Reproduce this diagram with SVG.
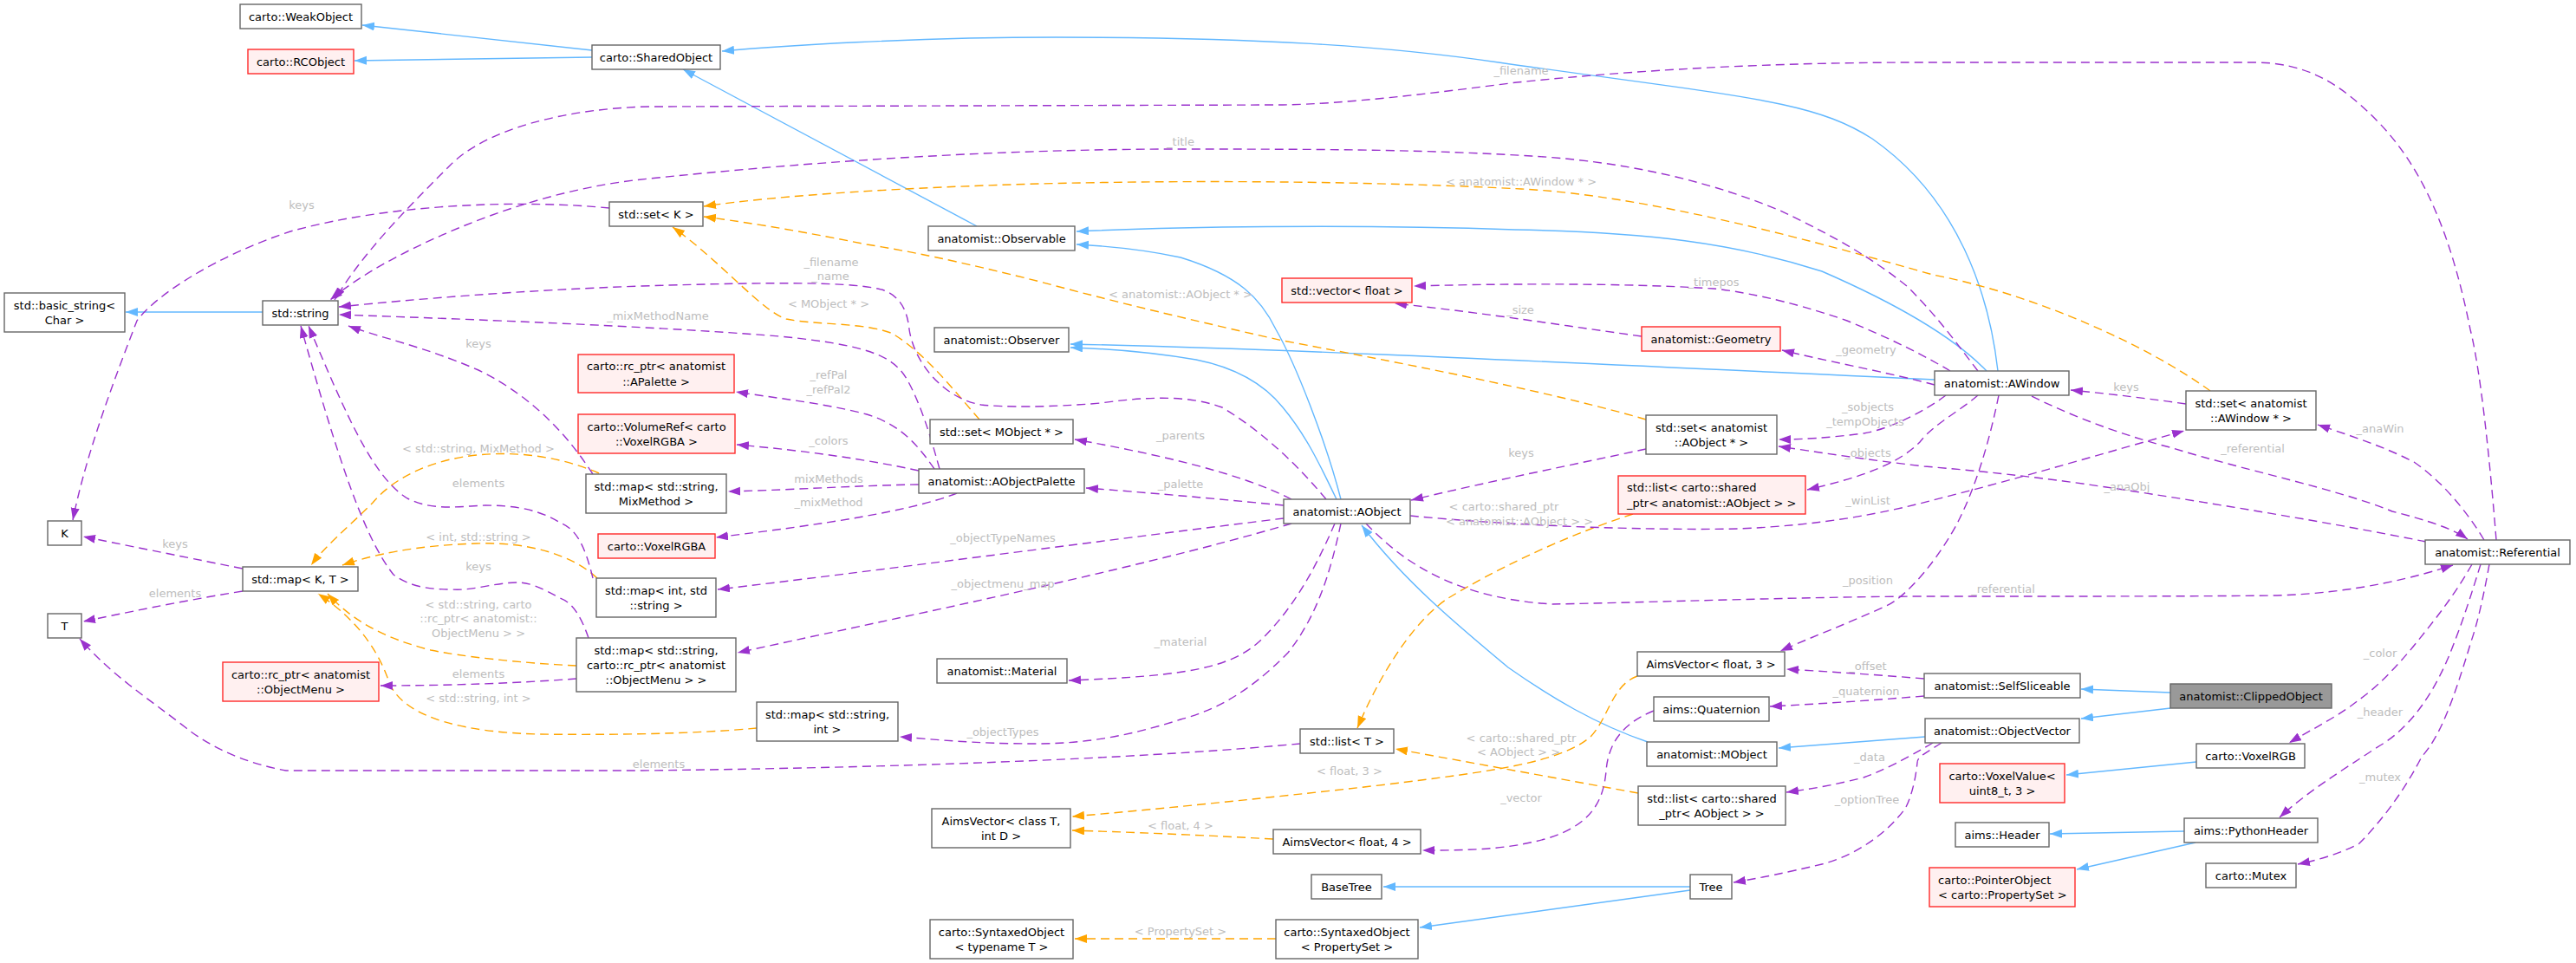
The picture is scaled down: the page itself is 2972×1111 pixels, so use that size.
<svg xmlns="http://www.w3.org/2000/svg" width="2972" height="1111" viewBox="0 0 2972 1111">
<style>
.n rect{fill:#ffffff;stroke:#666666;stroke-width:1.4}
.r rect{fill:#fff0f0;stroke:#ff2a2a;stroke-width:1.4}
.m rect{fill:#999999;stroke:#666666;stroke-width:1.4}
text{font-family:"DejaVu Sans","Liberation Sans",sans-serif;font-size:13px}
.n text,.r text,.m text{fill:#000000;text-anchor:middle}
text.la{text-anchor:start}
.lb text{fill:#bdbdbd;text-anchor:middle}
.inh{fill:none;stroke:#63b8ff;stroke-width:1.4;marker-end:url(#ab)}
.use{fill:none;stroke:#9a32cd;stroke-width:1.4;stroke-dasharray:10,6;marker-end:url(#ap)}
.tpl{fill:none;stroke:#ffa500;stroke-width:1.4;stroke-dasharray:10,6;marker-end:url(#ao)}
</style>
<defs>
<marker id="ab" markerUnits="userSpaceOnUse" markerWidth="15" markerHeight="11" refX="14" refY="5" orient="auto"><path d="M0,0 L14,5 L0,10 z" fill="#63b8ff"/></marker>
<marker id="ap" markerUnits="userSpaceOnUse" markerWidth="15" markerHeight="11" refX="14" refY="5" orient="auto"><path d="M0,0 L14,5 L0,10 z" fill="#9a32cd"/></marker>
<marker id="ao" markerUnits="userSpaceOnUse" markerWidth="15" markerHeight="11" refX="14" refY="5" orient="auto"><path d="M0,0 L14,5 L0,10 z" fill="#ffa500"/></marker>
</defs>
<rect width="2972" height="1111" fill="#ffffff"/>
<g id="edges">
<!-- inheritance -->
<path class="inh" d="M683,58 L418,29"/>
<path class="inh" d="M683,66 L409,70"/>
<path class="inh" d="M1127,261 L788,80"/>
<path class="inh" d="M2305,428 C2295,340 2260,230 2160,160 C2090,115 2010,112 1729,72 C1600,53 1450,43 1218,43 C1050,43 900,53 833,59"/>
<path class="inh" d="M2292,428 C2265,400 2210,360 2102,313 C2000,280 1900,268 1748,265 C1550,258 1350,262 1242,267"/>
<path class="inh" d="M2232,438 C1800,418 1480,402 1235,397"/>
<path class="inh" d="M1547,576 C1530,510 1495,420 1472,380 C1455,345 1430,318 1362,297 C1320,288 1280,284 1242,282"/>
<path class="inh" d="M1542,576 C1520,530 1505,500 1480,470 C1460,445 1430,425 1380,415 C1320,405 1270,402 1235,401"/>
<path class="inh" d="M1901,856 C1840,835 1790,805 1740,770 C1680,720 1620,670 1571,606"/>
<path class="inh" d="M2221,850 L2052,863"/>
<path class="inh" d="M2504,799 L2401,795"/>
<path class="inh" d="M2504,817 L2401,829"/>
<path class="inh" d="M2534,879 L2384,894"/>
<path class="inh" d="M2520,959 L2365,962"/>
<path class="inh" d="M2533,972 L2396,1003"/>
<path class="inh" d="M1950,1023 L1596,1023"/>
<path class="inh" d="M1950,1027 L1638,1070"/>
<path class="inh" d="M303,360 L145,360"/>
<!-- template instances -->
<path class="tpl" d="M2550,451 C2480,400 2350,340 2230,317 C2100,280 1900,225 1755,218 C1600,210 1400,207 1200,212 C1050,216 900,225 812,238"/>
<path class="tpl" d="M1899,484 C1800,455 1650,425 1480,393 C1400,375 1300,352 1200,325 C1100,300 1050,290 1000,282 C900,262 850,255 812,250"/>
<path class="tpl" d="M1130,484 C1100,450 1070,410 1030,385 C1000,372 940,375 907,368 C880,360 830,300 776,262"/>
<path class="tpl" d="M691,546 C650,528 600,520 550,525 C500,530 455,550 430,580 C400,610 375,630 359,652"/>
<path class="tpl" d="M689,667 C660,640 610,625 550,627 C480,629 430,640 395,652"/>
<path class="tpl" d="M665,768 C600,765 530,757 497,750 C450,738 410,720 378,685"/>
<path class="tpl" d="M873,840 C800,847 700,848 622,847 C540,845 470,830 450,790 C440,760 420,720 367,685"/>
<path class="tpl" d="M1889,780 C1860,790 1855,830 1835,850 C1800,880 1720,890 1600,905 C1450,922 1320,935 1237,942"/>
<path class="tpl" d="M1469,968 C1380,963 1300,960 1237,958"/>
<path class="tpl" d="M1472,1083 L1240,1083"/>
<path class="tpl" d="M1890,915 L1610,864"/>
<path class="tpl" d="M1884,593 C1800,620 1720,660 1671,690 C1640,710 1600,760 1566,840"/>
<!-- usage -->
<path class="use" d="M2880,623 C2870,500 2860,420 2850,380 C2830,280 2800,200 2746,143 C2700,95 2660,72 2600,72 L2220,72 C2000,72 1850,85 1750,95 C1650,108 1550,120 1480,121 L750,123 C650,125 560,150 520,190 C470,240 420,290 386,346"/>
<path class="use" d="M2282,428 C2260,400 2240,370 2200,330 C2150,290 2100,265 2054,243 C1950,200 1850,185 1767,180 C1650,173 1550,172 1362,172 C1200,172 1000,180 750,206 C650,215 550,250 470,290 C430,310 400,330 381,346"/>
<path class="use" d="M1530,576 C1500,540 1460,500 1410,470 C1370,455 1320,458 1270,465 C1210,470 1160,470 1132,467 C1090,460 1055,420 1049,380 C1047,360 1040,343 1020,335 C990,325 900,325 740,330 C600,335 480,345 391,354"/>
<path class="use" d="M1084,541 C1078,520 1065,470 1046,437 C1030,410 1000,398 900,388 C800,380 650,372 391,363"/>
<path class="use" d="M1078,541 C1060,515 1040,490 1000,478 C950,465 900,460 849,452"/>
<path class="use" d="M1060,543 C1000,530 930,520 850,513"/>
<path class="use" d="M1060,559 C990,560 920,565 840,567"/>
<path class="use" d="M1104,569 C1050,590 950,605 826,620"/>
<path class="use" d="M684,547 C660,510 620,460 552,427 C490,400 440,390 402,376"/>
<path class="use" d="M684,667 C675,630 665,610 646,603 C625,590 600,583 560,583 C530,584 500,590 470,575 C430,550 400,480 356,376"/>
<path class="use" d="M679,736 C670,710 660,695 646,690 C625,678 610,672 598,672 C570,672 545,682 521,680 C490,680 470,675 454,663 C420,620 390,530 347,376"/>
<path class="use" d="M703,240 C600,230 450,235 335,267 C250,295 180,340 158,370 C135,430 100,520 84,600"/>
<path class="use" d="M280,656 C200,640 140,628 96,619"/>
<path class="use" d="M280,682 C200,695 140,708 96,717"/>
<path class="use" d="M665,783 C600,788 520,791 439,791"/>
<path class="use" d="M1500,858 C1350,872 1100,885 740,889 L330,889 C280,880 240,860 215,840 C170,805 130,780 92,737"/>
<path class="use" d="M1490,576 C1430,545 1330,523 1240,507"/>
<path class="use" d="M1481,583 C1400,575 1320,568 1253,563"/>
<path class="use" d="M1481,598 C1300,620 1000,660 828,680"/>
<path class="use" d="M1490,604 C1300,660 1000,720 851,753"/>
<path class="use" d="M1540,604 C1520,650 1495,700 1453,740 C1420,770 1370,780 1233,785"/>
<path class="use" d="M1547,604 C1535,660 1520,710 1486,753 C1440,800 1400,820 1362,830 C1300,850 1250,858 1195,858 C1120,858 1080,853 1038,850"/>
<path class="use" d="M1627,595 C1750,607 1900,612 2006,610 C2100,606 2170,593 2230,577 C2330,552 2430,522 2520,497"/>
<path class="use" d="M1576,604 C1620,650 1680,690 1791,697 C1900,695 2100,688 2230,688 C2400,688 2550,688 2627,687 C2720,684 2790,665 2830,652"/>
<path class="use" d="M1899,518 C1820,535 1720,555 1628,577"/>
<path class="use" d="M2250,428 C2220,410 2180,390 2131,370 C2060,345 2000,335 1977,333 C1900,328 1780,326 1631,330"/>
<path class="use" d="M1894,388 C1800,375 1720,362 1609,350"/>
<path class="use" d="M2232,444 C2180,430 2100,415 2056,404"/>
<path class="use" d="M2245,456 C2220,475 2180,495 2150,500 C2110,505 2080,507 2052,507"/>
<path class="use" d="M2282,456 C2260,475 2230,490 2215,510 C2190,535 2150,550 2085,565"/>
<path class="use" d="M2306,456 C2295,510 2280,560 2260,600 C2240,640 2200,690 2174,700 C2130,720 2090,735 2054,751"/>
<path class="use" d="M2344,457 C2400,485 2460,505 2507,517 C2580,540 2700,565 2760,590 C2800,600 2830,610 2847,622"/>
<path class="use" d="M2522,466 C2480,460 2440,455 2389,450"/>
<path class="use" d="M2866,623 C2840,580 2810,550 2785,533 C2750,515 2710,502 2674,490"/>
<path class="use" d="M2799,625 C2700,605 2550,580 2430,562 C2350,550 2280,543 2220,538 C2150,530 2100,522 2052,515"/>
<path class="use" d="M2852,651 C2830,690 2805,720 2789,740 C2765,770 2740,795 2722,807 C2700,825 2670,840 2641,857"/>
<path class="use" d="M2862,651 C2850,690 2840,720 2832,740 C2810,800 2780,840 2746,860 C2700,890 2660,915 2630,943"/>
<path class="use" d="M2872,651 C2865,690 2858,720 2851,740 C2830,810 2815,850 2794,873 C2770,920 2740,955 2722,973 C2700,985 2675,992 2651,997"/>
<path class="use" d="M2230,857 C2200,875 2170,890 2150,897 C2110,907 2090,910 2061,914"/>
<path class="use" d="M2240,857 C2220,870 2212,873 2212,880 C2210,900 2205,920 2198,933 C2170,970 2130,990 2102,997 C2060,1007 2030,1013 2000,1018"/>
<path class="use" d="M2220,783 C2160,778 2110,775 2061,772"/>
<path class="use" d="M2220,803 C2160,808 2100,812 2042,815"/>
<path class="use" d="M1908,820 C1870,835 1855,860 1853,890 C1850,920 1840,950 1786,967 C1740,980 1700,981 1641,981"/>
</g>
<g id="labels" class="lb">
<text x="348" y="241">keys</text>
<text x="1362" y="168">_title</text>
<text x="1755" y="86">_filename</text>
<text x="1755" y="214">&lt; anatomist::AWindow * &gt;</text>
<text x="1977" y="330">_timepos</text>
<text x="1754" y="362">_size</text>
<text x="959" y="307">_filename</text>
<text x="958" y="323">_name</text>
<text x="956" y="355">&lt; MObject * &gt;</text>
<text x="1362" y="344">&lt; anatomist::AObject * &gt;</text>
<text x="759" y="369">_mixMethodName</text>
<text x="552" y="401">keys</text>
<text x="956" y="437">_refPal</text>
<text x="956" y="454">_refPal2</text>
<text x="2153" y="408">_geometry</text>
<text x="2155" y="474">_sobjects</text>
<text x="2152" y="491">_tempObjects</text>
<text x="1755" y="527">keys</text>
<text x="1362" y="507">_parents</text>
<text x="956" y="513">_colors</text>
<text x="552" y="522">&lt; std::string, MixMethod &gt;</text>
<text x="2155" y="527">_objects</text>
<text x="956" y="557">mixMethods</text>
<text x="1362" y="563">_palette</text>
<text x="552" y="562">elements</text>
<text x="2155" y="582">_winList</text>
<text x="1735" y="589">&lt; carto::shared_ptr</text>
<text x="1753" y="606">&lt; anatomist::AObject &gt; &gt;</text>
<text x="956" y="584">_mixMethod</text>
<text x="552" y="624">&lt; int, std::string &gt;</text>
<text x="1157" y="625">_objectTypeNames</text>
<text x="202" y="632">keys</text>
<text x="552" y="658">keys</text>
<text x="2155" y="674">_position</text>
<text x="1157" y="678">_objectmenu_map</text>
<text x="202" y="689">elements</text>
<text x="552" y="702">&lt; std::string, carto</text>
<text x="552" y="718">::rc_ptr&lt; anatomist::</text>
<text x="552" y="735">ObjectMenu &gt; &gt;</text>
<text x="2311" y="684">_referential</text>
<text x="1362" y="745">_material</text>
<text x="552" y="782">elements</text>
<text x="2155" y="773">_offset</text>
<text x="2746" y="758">_color</text>
<text x="2153" y="802">_quaternion</text>
<text x="552" y="810">&lt; std::string, int &gt;</text>
<text x="2746" y="826">_header</text>
<text x="1157" y="849">_objectTypes</text>
<text x="1755" y="856">&lt; carto::shared_ptr</text>
<text x="1752" y="872">&lt; AObject &gt; &gt;</text>
<text x="2157" y="878">_data</text>
<text x="760" y="886">elements</text>
<text x="1557" y="894">&lt; float, 3 &gt;</text>
<text x="2746" y="901">_mutex</text>
<text x="1755" y="925">_vector</text>
<text x="2154" y="927">_optionTree</text>
<text x="1362" y="957">&lt; float, 4 &gt;</text>
<text x="1362" y="1079">&lt; PropertySet &gt;</text>
<text x="2453" y="451">keys</text>
<text x="2746" y="499">_anaWin</text>
<text x="2599" y="522">_referential</text>
<text x="2454" y="566">_anaObj</text>
</g>
<g id="n1" class="n"><rect x="277" y="5" width="140" height="28"/><text x="347" y="24">carto::WeakObject</text></g>
<g id="n2" class="r"><rect x="286" y="57" width="122" height="28"/><text x="347" y="76">carto::RCObject</text></g>
<g id="n3" class="n"><rect x="683" y="52" width="148" height="28"/><text x="757" y="71">carto::SharedObject</text></g>
<g id="n4" class="n"><rect x="703" y="233" width="108" height="28"/><text x="757" y="252">std::set&lt; K &gt;</text></g>
<g id="n5" class="n"><rect x="5" y="338" width="139" height="45"/><text x="74.5" y="356.5">std::basic_string&lt;</text><text x="74.5" y="374">Char &gt;</text></g>
<g id="n6" class="n"><rect x="303" y="347" width="87" height="28"/><text x="346.5" y="366">std::string</text></g>
<g id="n7" class="n"><rect x="55" y="601" width="39" height="28"/><text x="74.5" y="620">K</text></g>
<g id="n8" class="n"><rect x="280" y="654" width="133" height="28"/><text x="346.5" y="673">std::map&lt; K, T &gt;</text></g>
<g id="n9" class="n"><rect x="55" y="708" width="39" height="28"/><text x="74.5" y="727">T</text></g>
<g id="n10" class="r"><rect x="257" y="764" width="180" height="45"/><text x="347" y="782.5">carto::rc_ptr&lt; anatomist</text><text x="347" y="800">::ObjectMenu &gt;</text></g>
<g id="n11" class="n"><rect x="1071" y="261" width="169" height="28"/><text x="1155.5" y="280">anatomist::Observable</text></g>
<g id="n12" class="n"><rect x="1078" y="378" width="155" height="28"/><text x="1155.5" y="397">anatomist::Observer</text></g>
<g id="n13" class="r"><rect x="667" y="409" width="180" height="44"/><text x="757" y="427">carto::rc_ptr&lt; anatomist</text><text x="757" y="444.5">::APalette &gt;</text></g>
<g id="n14" class="r"><rect x="667" y="478" width="181" height="45"/><text x="757.5" y="496.5">carto::VolumeRef&lt; carto</text><text x="757.5" y="514">::VoxelRGBA &gt;</text></g>
<g id="n15" class="n"><rect x="1073" y="484" width="165" height="28"/><text x="1155.5" y="503">std::set&lt; MObject * &gt;</text></g>
<g id="n16" class="n"><rect x="1060" y="541" width="191" height="28"/><text x="1155.5" y="560">anatomist::AObjectPalette</text></g>
<g id="n17" class="n"><rect x="676" y="547" width="162" height="45"/><text x="757" y="565.5">std::map&lt; std::string,</text><text x="757" y="583">MixMethod &gt;</text></g>
<g id="n18" class="r"><rect x="690" y="616" width="135" height="28"/><text x="757.5" y="635">carto::VoxelRGBA</text></g>
<g id="n19" class="n"><rect x="688" y="667" width="138" height="45"/><text x="757" y="685.5">std::map&lt; int, std</text><text x="757" y="703">::string &gt;</text></g>
<g id="n20" class="n"><rect x="665" y="736" width="184" height="62"/><text x="757" y="754.5">std::map&lt; std::string,</text><text x="757" y="771.5">carto::rc_ptr&lt; anatomist</text><text x="757" y="789">::ObjectMenu &gt; &gt;</text></g>
<g id="n21" class="n"><rect x="1081" y="760" width="150" height="28"/><text x="1156" y="779">anatomist::Material</text></g>
<g id="n22" class="n"><rect x="873" y="810" width="163" height="45"/><text x="954.5" y="828.5">std::map&lt; std::string,</text><text x="954.5" y="846">int &gt;</text></g>
<g id="n23" class="n"><rect x="1075" y="933" width="160" height="45"/><text x="1155" y="951.5">AimsVector&lt; class T,</text><text x="1155" y="969">int D &gt;</text></g>
<g id="n24" class="n"><rect x="1073" y="1061" width="165" height="45"/><text x="1155.5" y="1079.5">carto::SyntaxedObject</text><text x="1155.5" y="1097">&lt; typename T &gt;</text></g>
<g id="n25" class="r"><rect x="1479" y="321" width="150" height="28"/><text x="1554" y="340">std::vector&lt; float &gt;</text></g>
<g id="n26" class="n"><rect x="1481" y="576" width="146" height="28"/><text x="1554" y="595">anatomist::AObject</text></g>
<g id="n27" class="n"><rect x="1500" y="841" width="108" height="28"/><text x="1554" y="860">std::list&lt; T &gt;</text></g>
<g id="n28" class="n"><rect x="1469" y="957" width="170" height="28"/><text x="1554" y="976">AimsVector&lt; float, 4 &gt;</text></g>
<g id="n29" class="n"><rect x="1513" y="1009" width="81" height="28"/><text x="1553.5" y="1028">BaseTree</text></g>
<g id="n30" class="n"><rect x="1472" y="1061" width="164" height="45"/><text x="1554" y="1079.5">carto::SyntaxedObject</text><text x="1554" y="1097">&lt; PropertySet &gt;</text></g>
<g id="n31" class="r"><rect x="1894" y="377" width="160" height="28"/><text x="1974" y="396">anatomist::Geometry</text></g>
<g id="n32" class="n"><rect x="1899" y="479" width="151" height="45"/><text x="1974.5" y="497.5">std::set&lt; anatomist</text><text x="1974.5" y="515">::AObject * &gt;</text></g>
<g id="n33" class="r"><rect x="1867" y="549" width="216" height="44"/><text class="la" x="1877" y="567">std::list&lt; carto::shared</text><text class="la" x="1877" y="584.5">_ptr&lt; anatomist::AObject &gt; &gt;</text></g>
<g id="n34" class="n"><rect x="1889" y="752" width="170" height="28"/><text x="1974" y="771">AimsVector&lt; float, 3 &gt;</text></g>
<g id="n35" class="n"><rect x="1908" y="804" width="133" height="28"/><text x="1974.5" y="823">aims::Quaternion</text></g>
<g id="n36" class="n"><rect x="1900" y="856" width="150" height="28"/><text x="1975" y="875">anatomist::MObject</text></g>
<g id="n37" class="n"><rect x="1890" y="907" width="170" height="45"/><text x="1975" y="925.5">std::list&lt; carto::shared</text><text x="1975" y="943">_ptr&lt; AObject &gt; &gt;</text></g>
<g id="n38" class="n"><rect x="1950" y="1009" width="48" height="28"/><text x="1974" y="1028">Tree</text></g>
<g id="n39" class="n"><rect x="2232" y="428" width="155" height="28"/><text x="2309.5" y="447">anatomist::AWindow</text></g>
<g id="n40" class="n"><rect x="2522" y="451" width="150" height="45"/><text x="2597" y="469.5">std::set&lt; anatomist</text><text x="2597" y="487">::AWindow * &gt;</text></g>
<g id="n41" class="n"><rect x="2798" y="623" width="167" height="28"/><text x="2881.5" y="642">anatomist::Referential</text></g>
<g id="n42" class="n"><rect x="2220" y="777" width="180" height="28"/><text x="2310" y="796">anatomist::SelfSliceable</text></g>
<g id="n43" class="m"><rect x="2504" y="789" width="186" height="28"/><text x="2597" y="808">anatomist::ClippedObject</text></g>
<g id="n44" class="n"><rect x="2221" y="829" width="178" height="28"/><text x="2310" y="848">anatomist::ObjectVector</text></g>
<g id="n45" class="n"><rect x="2534" y="858" width="125" height="28"/><text x="2596.5" y="877">carto::VoxelRGB</text></g>
<g id="n46" class="r"><rect x="2238" y="881" width="144" height="45"/><text x="2310" y="899.5">carto::VoxelValue&lt;</text><text x="2310" y="917">uint8_t, 3 &gt;</text></g>
<g id="n47" class="n"><rect x="2256" y="949" width="108" height="28"/><text x="2310" y="968">aims::Header</text></g>
<g id="n48" class="n"><rect x="2520" y="944" width="154" height="28"/><text x="2597" y="963">aims::PythonHeader</text></g>
<g id="n49" class="r"><rect x="2226" y="1001" width="168" height="45"/><text class="la" x="2236" y="1019.5">carto::PointerObject</text><text class="la" x="2236" y="1037">&lt; carto::PropertySet &gt;</text></g>
<g id="n50" class="n"><rect x="2545" y="996" width="104" height="28"/><text x="2597" y="1015">carto::Mutex</text></g>
</svg>
